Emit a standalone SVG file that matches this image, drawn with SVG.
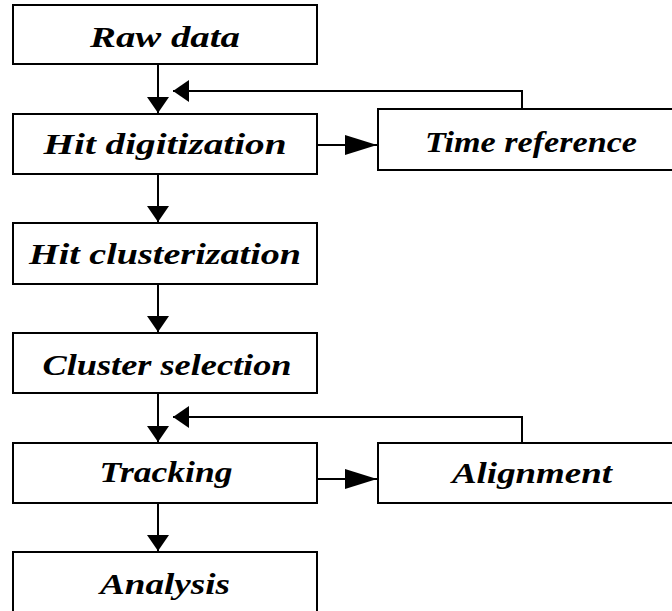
<svg xmlns="http://www.w3.org/2000/svg" width="672" height="611" viewBox="0 0 672 611">
<style>
.box{fill:#fff;stroke:#000;stroke-width:2}
.lbl{font-family:"Liberation Serif","DejaVu Serif",serif;font-style:italic;font-weight:bold;font-size:30px;fill:#000;text-anchor:middle}
.con{fill:none;stroke:#000;stroke-width:2}
</style>
<defs>
<marker id="ah" viewBox="0 0 16 22" refX="16" refY="11" markerWidth="16" markerHeight="22" markerUnits="userSpaceOnUse" orient="auto">
<path d="M0,0 L16,11 L0,22 Z" fill="#000"/>
</marker>
<marker id="ahw" viewBox="0 0 32 20" refX="32" refY="10" markerWidth="32" markerHeight="20" markerUnits="userSpaceOnUse" orient="auto">
<path d="M0,0 L32,10 L0,20 Z" fill="#000"/>
</marker>
</defs>
<g id="connectors">
<line class="con" x1="158" y1="64" x2="158" y2="113" marker-end="url(#ah)"/>
<polyline class="con" points="522,109 522,91 173,91" marker-end="url(#ah)"/>
<line class="con" x1="317" y1="145" x2="377" y2="145" marker-end="url(#ahw)"/>
<line class="con" x1="158" y1="174" x2="158" y2="222" marker-end="url(#ah)"/>
<line class="con" x1="158" y1="284" x2="158" y2="332" marker-end="url(#ah)"/>
<line class="con" x1="158" y1="393" x2="158" y2="442" marker-end="url(#ah)"/>
<polyline class="con" points="522,443 522,417 173,417" marker-end="url(#ah)"/>
<line class="con" x1="317" y1="479" x2="377" y2="479" marker-end="url(#ahw)"/>
<line class="con" x1="158" y1="503" x2="158" y2="551" marker-end="url(#ah)"/>
</g>
<g id="raw-data"><rect class="box" x="13" y="5" width="304" height="59"/><text class="lbl" x="165" y="47" textLength="150" lengthAdjust="spacingAndGlyphs">Raw data</text></g>
<g id="hit-digitization"><rect class="box" x="13" y="114" width="304" height="60"/><text class="lbl" x="165" y="154" textLength="243" lengthAdjust="spacingAndGlyphs">Hit digitization</text></g>
<g id="time-reference"><rect class="box" x="378" y="109" width="310" height="61"/><text class="lbl" x="531" y="152" textLength="212" lengthAdjust="spacingAndGlyphs">Time reference</text></g>
<g id="hit-clusterization"><rect class="box" x="13" y="223" width="304" height="61"/><text class="lbl" x="165" y="264" textLength="272" lengthAdjust="spacingAndGlyphs">Hit clusterization</text></g>
<g id="cluster-selection"><rect class="box" x="13" y="333" width="304" height="60"/><text class="lbl" x="167" y="375" textLength="249" lengthAdjust="spacingAndGlyphs">Cluster selection</text></g>
<g id="tracking"><rect class="box" x="13" y="443" width="304" height="60"/><text class="lbl" x="166" y="482" textLength="133" lengthAdjust="spacingAndGlyphs">Tracking</text></g>
<g id="alignment"><rect class="box" x="378" y="443" width="310" height="60"/><text class="lbl" x="532" y="483" textLength="160" lengthAdjust="spacingAndGlyphs">Alignment</text></g>
<g id="analysis"><rect class="box" x="13" y="552" width="304" height="70"/><text class="lbl" x="165" y="594" textLength="130" lengthAdjust="spacingAndGlyphs">Analysis</text></g>
</svg>
